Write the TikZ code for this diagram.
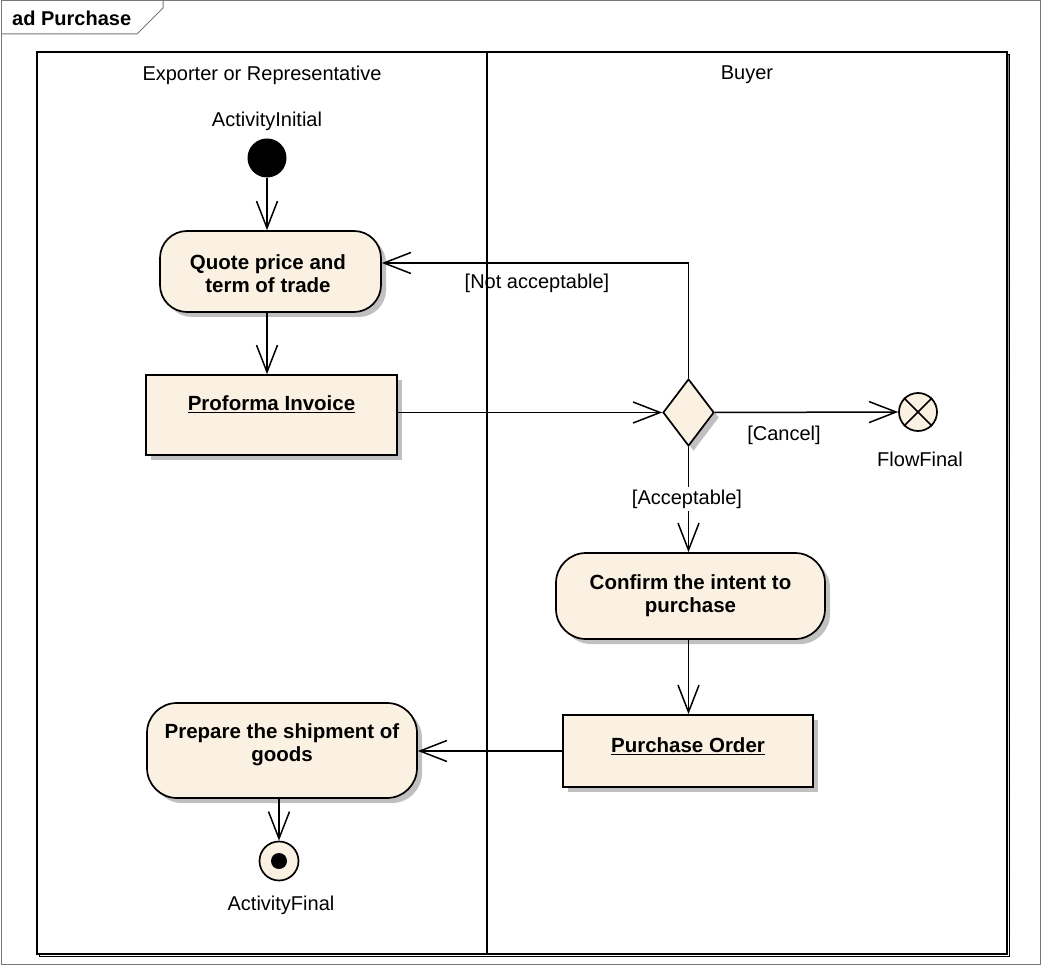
\documentclass[tikz,border=0pt]{standalone}
\usepackage{fontspec}
\setmainfont{Liberation Sans}
\usetikzlibrary{arrows.meta,shapes.geometric,shadows,calc}

\definecolor{cream}{RGB}{251,241,226}
\definecolor{framegray}{RGB}{120,120,120}
\definecolor{shade}{RGB}{192,192,192}

\begin{document}
\begin{tikzpicture}[x=1pt,y=-1pt,
  every node/.style={inner sep=0pt, font=\fontsize{20}{23}\selectfont},
  shadowed/.style={general shadow={fill=shade, shadow xshift=5pt, shadow yshift=-5pt}},
  boxtext/.style={align=center, font=\bfseries\fontsize{20.5}{23}\selectfont},
  action/.style={draw, line width=1.7pt, fill=cream, rounded corners=27pt, shadowed},
  objectbox/.style={draw, line width=1.7pt, fill=cream, shadowed},
  decision/.style={diamond, draw, line width=1.7pt, fill=cream, shadowed},
  endcircle/.style={circle, draw, line width=1.7pt, fill=cream, minimum size=38pt},
  guard/.style={font=\fontsize{20}{23}\selectfont},
  flow/.style={line width=1.5pt, -{Straight Barb[length=27pt,width=21pt,line width=1.5pt]}},
]
\useasboundingbox (0,0) rectangle (1041,965);

% diagram frame with its name tab
\draw[framegray, line width=1pt] (1,0.5) rectangle (1040,964.5);
\draw[framegray, line width=1pt] (1,34) -- (137,34) -- (163,8) -- (163,0);
\node[font=\bfseries\fontsize{20}{23}\selectfont, anchor=west] (title) at (12,18) {ad Purchase};

% swimlanes
\draw[shade, line width=1.5pt] (39.5,54.5) rectangle (1009.5,956.5);
\draw[line width=1.8pt, fill=white] (37,52) rectangle (1007,954);
\draw[line width=1.8pt] (487,52) -- (487,954);
\node (lane1) at (262,75) {Exporter or Representative};
\node (lane2) at (747,75) {Buyer};

% start
\node (initlabel) at (267,121) {ActivityInitial};
\node[circle, fill=black, minimum size=39pt] (init) at (267,158) {};

% activities and objects
\node[action, minimum width=221pt, minimum height=81pt] (quote) at (270.5,271.5) {};
\node[boxtext] (quote-t) at (268,274) {Quote price and\\term of trade};

\node[objectbox, minimum width=251pt, minimum height=80pt] (proforma) at (271.5,415) {};
\node[boxtext] (proforma-t) at (271.5,404) {\underline{Proforma Invoice}};

\node[decision, minimum width=51pt, minimum height=67pt] (dec) at (688.5,412.5) {};

\node[endcircle] (flowfinal) at (918,412) {};
\draw[line width=1.7pt] (flowfinal.north east) -- (flowfinal.south west)
                        (flowfinal.north west) -- (flowfinal.south east);
\node (flowfinal-t) at (920,459) {FlowFinal};

\node[action, minimum width=269pt, minimum height=86pt, rounded corners=30pt] (confirm) at (690.5,596) {};
\node[boxtext] (confirm-t) at (690.5,596) {Confirm the intent to\\purchase};

\node[objectbox, minimum width=250pt, minimum height=72pt] (po) at (688,751) {};
\node[boxtext] (po-t) at (688,746) {\underline{Purchase Order}};

\node[action, minimum width=270pt, minimum height=95pt, rounded corners=30pt] (prepare) at (282,750.5) {};
\node[boxtext] (prepare-t) at (282,745) {Prepare the shipment of\\goods};

% end
\node[endcircle, minimum size=39pt] (afinal) at (279,861) {};
\node[circle, fill=black, minimum size=16pt] (afinal-dot) at (afinal) {};
\node (afinal-t) at (281,905) {ActivityFinal};

% control flows
\draw[flow] (init.south) -- (init |- quote.north);
\draw[flow] (quote.south -| init) -- (proforma.north -| init);
\draw[flow] (proforma.east |- dec.west) -- (dec.west);
\draw[flow] (dec.east) -- (flowfinal.west);
\node[guard] (cancel) at (784,435) {[Cancel]};
\draw[flow] (dec.north) |- ($(quote.east)+(0,-8.5)$);
\node[guard] (notacc) at (537,283) {[Not acceptable]};
\draw[flow] (dec.south) -- (dec.south |- confirm.north);
\node[guard, fill=white, inner xsep=1pt, inner ysep=3pt] (acc) at (687,499) {[Acceptable]};
\draw[flow] (confirm.south -| dec) -- (po.north -| dec);
\draw[flow] (po.west) -- (prepare.east |- po.west);
\draw[flow] (prepare.south -| afinal) -- (afinal.north);
\end{tikzpicture}
\end{document}
